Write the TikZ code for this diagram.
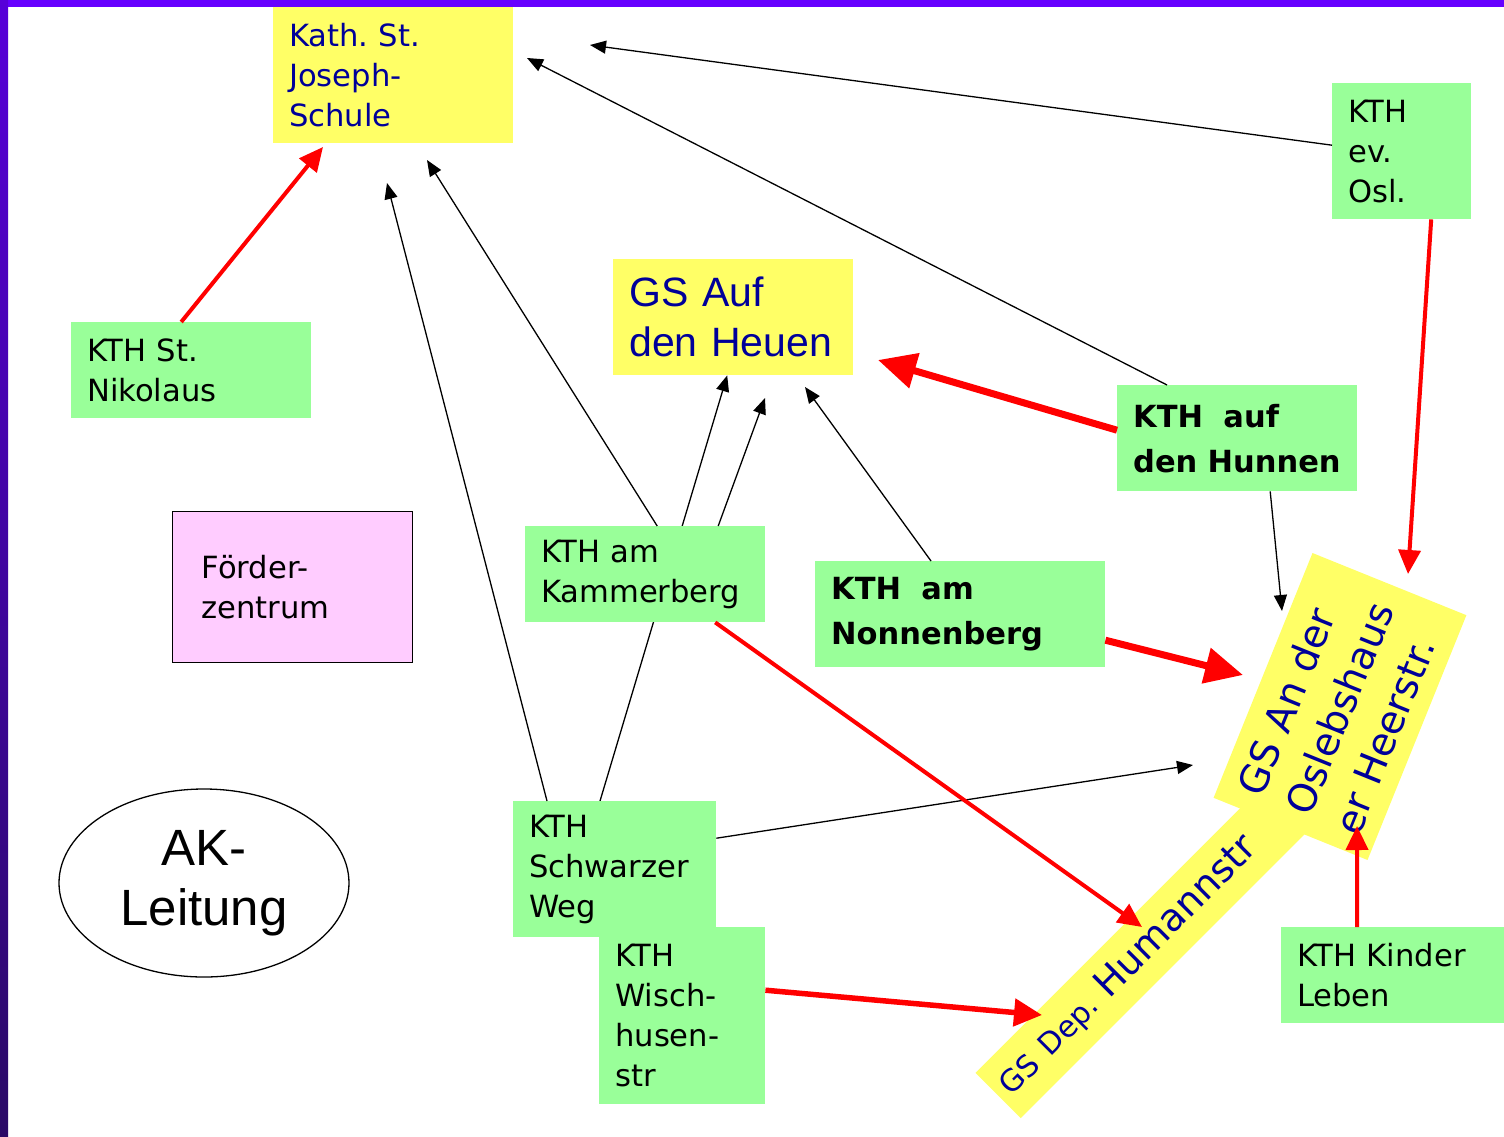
\documentclass[tikz,border=0pt]{standalone}
\usepackage{fontspec}
\setmainfont{DejaVu Sans}
\newfontfamily\arialfamily{Liberation Sans}
\usetikzlibrary{arrows.meta,positioning,calc,backgrounds,shapes.geometric}
\definecolor{frame}{HTML}{6600FF}
\definecolor{framedark}{HTML}{2A0A66}
\definecolor{sun}{HTML}{FFFF66}
\definecolor{leaf}{HTML}{99FF99}
\definecolor{rose}{HTML}{FFCCFF}
\definecolor{navy}{HTML}{000099}
\hyphenpenalty=10000
\exhyphenpenalty=10000
\frenchspacing

\begin{document}
\begin{tikzpicture}[x=1pt,y=-1pt,
  font=\fontsize{30.6pt}{40pt}\selectfont,
  box/.style={anchor=north west,inner xsep=16pt,inner ysep=0pt,align=left},
  kth/.style={box,fill=leaf},
  school/.style={box,fill=sun,text=navy},
  boldkth/.style={kth,font=\bfseries\fontsize{30.5pt}{45pt}\selectfont,minimum height=106pt},
  link/.style={-{Triangle[length=16pt,width=13pt]},line width=1.3pt},
  push/.style={-{Triangle[length=24pt,width=22pt]},draw=red,line width=4pt},
  bigpush/.style={-{Triangle[length=38pt,width=35pt]},draw=red,line width=7pt},
]
\useasboundingbox (0,0) rectangle (1504,1137);
\fill[frame] (0,0) rectangle (1504,7);
\shade[top color=frame!85!black,bottom color=framedark] (0,0) rectangle (8,1137);

% schools
\node[school,text width=208pt,minimum height=136pt] (joseph) at (273,7) {Kath. St.\\Joseph-\\Schule};
\node[school,font=\arialfamily\fontsize{41pt}{50pt}\selectfont,text width=208pt,minimum height=116pt] (heuen) at (613,259) {GS Auf\\den~Heuen};

% day care centres
\foreach \x/\y/\w/\h/\id/\txt in {
  1332/83/139/136/osl/{KTH\\ev.\\Osl.},
  71/322/240/96/niko/{KTH St.\\Nikolaus},
  525/526/240/96/kammer/{KTH am\\Kammerberg},
  513/801/203/136/schwarz/{KTH\\Schwarzer\\Weg},
  599/927/166/177/wisch/{KTH\\Wisch-\\husen-\\str},
  1281/927/223/96/kinder/{KTH~Kinder\\Leben}}
{
  \pgfmathsetmacro\tw{\w-32}
  \node[kth,text width=\tw pt,minimum height=\h pt] (\id) at (\x,\y) {\txt};
}
\node[boldkth,text width=208pt] (hunnen) at (1117,385) {KTH~~auf\\den~Hunnen};
\node[boldkth,text width=258pt] (nonnen) at (815,561) {KTH~~am\\Nonnenberg};

\node[box,draw,line width=1.3pt,fill=rose,inner xsep=29pt,text width=182pt,minimum height=151pt] (foerder) at (172,511) {Förder-\\zentrum};
\node[ellipse,draw,line width=1.3pt,minimum width=290pt,minimum height=188pt,inner sep=0pt,align=center,
  font=\arialfamily\fontsize{51pt}{60pt}\selectfont] (ak) at (204,883) {AK-\\Leitung};

\node[fill=sun,text=navy,rotate=45,minimum height=64pt,text width=409pt,inner xsep=9pt,inner ysep=0pt,align=left,
  font=\fontsize{38pt}{46pt}\selectfont] (humann) at (1149,944.5) {{\fontsize{30pt}{36pt}\selectfont GS Dep. }Humannstr};
\node[fill=sun,text=navy,rotate=68,minimum height=166pt,text width=228pt,inner xsep=18pt,inner ysep=0pt,align=left,
  font=\fontsize{39pt}{52pt}\selectfont] (osleb) at (1340,706.5) {GS An der\\Oslebshaus\\er Heerstr.};

% arrow tips
\coordinate (jo1) at (590,45);
\coordinate (jo2) at (527,58);
\coordinate (jo3) at (427,160);
\coordinate (jo4) at (387,183);
\coordinate (jo5) at (323,147);
\coordinate (he1) at (765,398);
\coordinate (he2) at (805,387);
\coordinate (he3) at (878,360);
\coordinate (os1) at (1193,765);
\coordinate (os2) at (1282,611);
\coordinate (os3) at (1408,574);
\coordinate (os4) at (1243,675);
\coordinate (os5) at (1357,826);
\coordinate (hu1) at (1142,927);
\coordinate (hu2) at (1042,1015);

\draw[link] ([yshift=6pt]osl.west) -- (jo1);
\draw[link] ([xshift=50pt]hunnen.north west) -- (jo2);
\draw[link] ([xshift=12pt]kammer.north) -- (jo3);
\draw[link] ([xshift=34pt]schwarz.north west) -- (jo4);
\draw[link] ([xshift=73pt]kammer.north) -- (he1);
\draw[link] ([xshift=116pt]nonnen.north west) -- (he2);
\draw[link] ([yshift=31pt]schwarz.east) -- (os1);
\draw[link] ([xshift=33pt]hunnen.south) -- (os2);
\begin{scope}[on background layer]
  \draw[link] ([xshift=87pt]schwarz.north west) -- ([xshift=-6pt]heuen.south);
\end{scope}

\draw[push] ([xshift=-10pt]niko.north) -- (jo5);
\draw[bigpush] ([yshift=8pt]hunnen.west) -- (he3);
\draw[push] ([xshift=29.5pt]osl.south) -- (os3);
\draw[bigpush] ([yshift=-26pt]nonnen.east) -- (os4);
\draw[push] ([xshift=70pt]kammer.south) -- (hu1);
\draw[push,line width=5.5pt,-{Triangle[length=28pt,width=27pt]}] ([yshift=25.5pt]wisch.east) -- (hu2);
\draw[push] ([xshift=-35.5pt]kinder.north) -- (os5);
\end{tikzpicture}
\end{document}
